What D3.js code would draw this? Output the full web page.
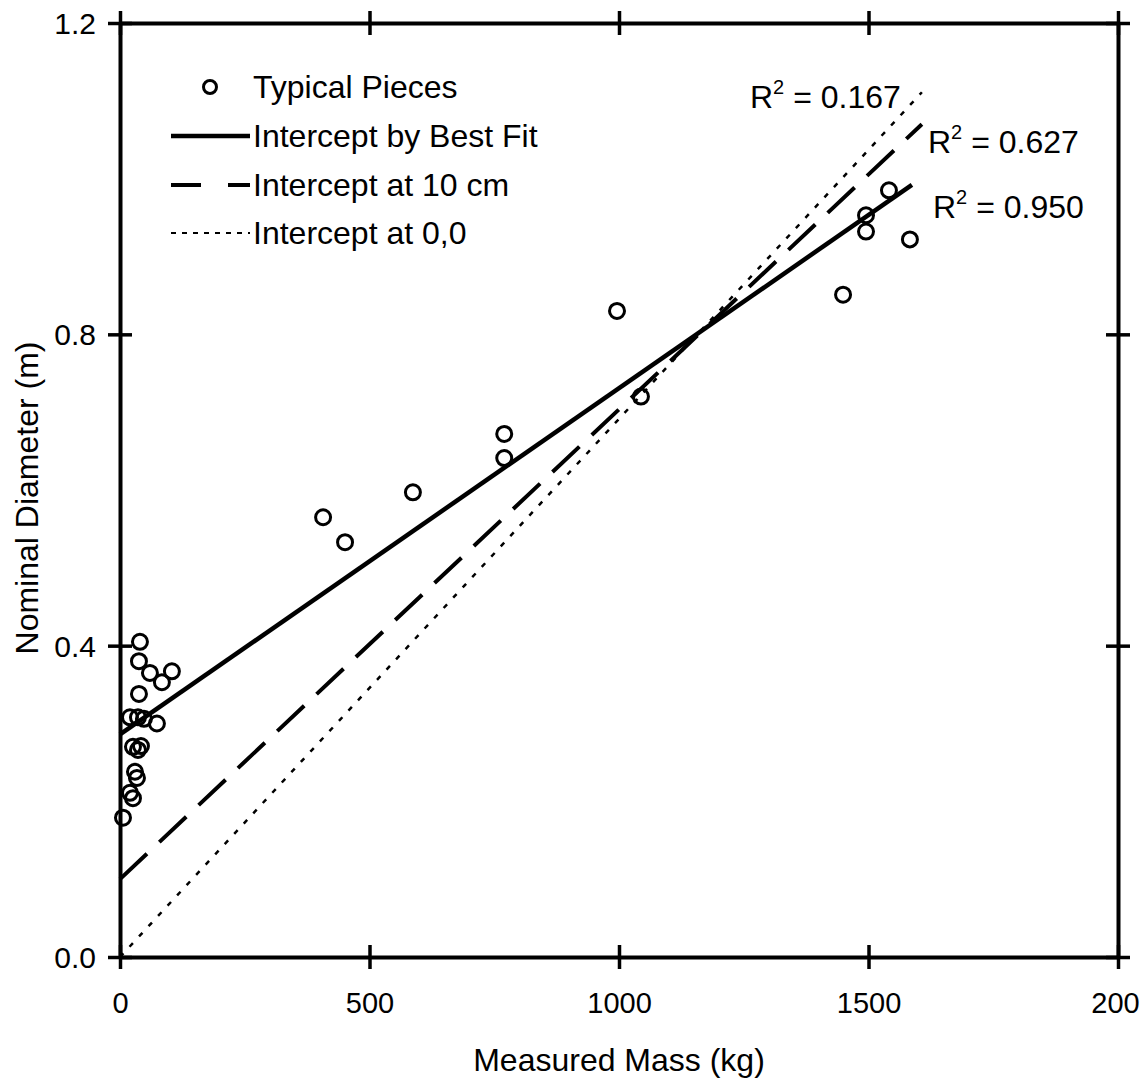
<!DOCTYPE html>
<html>
<head>
<meta charset="utf-8">
<script src="https://cdn.jsdelivr.net/npm/d3@7"></script>
<style>
  body { margin: 0; background: #fff; }
  svg text { font-family: "Liberation Sans", Arial, Helvetica, sans-serif; fill: #000; }
</style>
</head>
<body>
<svg id="chart"></svg>
<script>
// Measured pieces
const massKg = [1541, 1495, 1495, 1583, 1449, 996, 1044, 770, 770, 587, 407, 451,
                40, 38, 60, 104, 84, 38, 20, 36, 48, 74, 26, 36, 42, 30, 34, 20, 26, 6];
const diameterM = [0.985, 0.953, 0.932, 0.922, 0.851, 0.830, 0.720, 0.672, 0.641, 0.597, 0.565, 0.533,
                   0.405, 0.380, 0.365, 0.367, 0.353, 0.338, 0.308, 0.308, 0.306, 0.300, 0.270, 0.266, 0.271, 0.238, 0.230, 0.211, 0.204, 0.179];

// Fitted lines (end points)
const bestFitMass = [0, 1587], bestFitDiam = [0.286, 0.992];
const int10Mass = [0, 1607], int10Diam = [0.10, 1.070];
const int00Mass = [0, 1607], int00Diam = [0.0, 1.111];

const xTicks = [0, 500, 1000, 1500, 2000];
const xTickLabels = ["0", "500", "1000", "1500", "200"];
const yTicks = [0, 0.4, 0.8, 1.2];
const yTickLabels = ["0.0", "0.4", "0.8", "1.2"];

const legendLabels = ["Typical Pieces", "Intercept by Best Fit", "Intercept at 10 cm", "Intercept at 0,0"];
const rSquared = ["0.167", "0.627", "0.950"];

const width = 1142, height = 1078;
const margin = {top: 23, right: 24, bottom: 121, left: 120};

const svg = d3.select("#chart")
    .attr("width", width)
    .attr("height", height);

const x = d3.scaleLinear().domain([0, 2000]).range([margin.left, width - margin.right]);
const y = d3.scaleLinear().domain([0, 1.2]).range([height - margin.bottom, margin.top]);

// Axes: ticks cross the frame on all four sides
function styleAxis(g, vertical) {
    g.select(".domain").attr("stroke", "#000").attr("stroke-width", 4);
    g.selectAll(".tick line").attr("stroke", "#000").attr("stroke-width", 3.5);
    if (vertical) g.selectAll(".tick line").attr("x1", -12).attr("x2", 12);
    else g.selectAll(".tick line").attr("y1", -12).attr("y2", 12);
}

const xAxisBottom = svg.append("g")
    .attr("transform", `translate(0,${y(0)})`)
    .call(d3.axisBottom(x).tickValues(xTicks).tickSize(12).tickSizeOuter(0).tickPadding(23)
        .tickFormat((d, i) => xTickLabels[i]));
styleAxis(xAxisBottom, false);
xAxisBottom.selectAll("text").attr("font-size", 29);
// last label sits at the page edge, keep it inside
xAxisBottom.selectAll(".tick:last-of-type text").attr("dx", -3);

const xAxisTop = svg.append("g")
    .attr("transform", `translate(0,${y(1.2)})`)
    .call(d3.axisTop(x).tickValues(xTicks).tickSize(12).tickSizeOuter(0).tickFormat(""));
styleAxis(xAxisTop, false);

const yAxisLeft = svg.append("g")
    .attr("transform", `translate(${x(0)},0)`)
    .call(d3.axisLeft(y).tickValues(yTicks).tickSize(12).tickSizeOuter(0).tickPadding(12)
        .tickFormat((d, i) => yTickLabels[i]));
styleAxis(yAxisLeft, true);
yAxisLeft.selectAll("text").attr("font-size", 30).attr("dy", "0.35em");

const yAxisRight = svg.append("g")
    .attr("transform", `translate(${x(2000)},0)`)
    .call(d3.axisRight(y).tickValues(yTicks).tickSize(12).tickSizeOuter(0).tickFormat(""));
styleAxis(yAxisRight, true);

// Axis titles
svg.append("text")
    .attr("x", x(1000)).attr("y", 1071)
    .attr("text-anchor", "middle").attr("font-size", 32)
    .text("Measured Mass (kg)");

svg.append("text")
    .attr("transform", `translate(38,${(y(0) + y(1.2)) / 2 + 8}) rotate(-90)`)
    .attr("text-anchor", "middle").attr("font-size", 32)
    .text("Nominal Diameter (m)");

// Fit lines
const lineStyles = [
    {mass: int00Mass, diam: int00Diam, width: 2.5, dash: "5,9"},
    {mass: int10Mass, diam: int10Diam, width: 4, dash: "37,17"},
    {mass: bestFitMass, diam: bestFitDiam, width: 4.5, dash: null}
];
const line = d3.line().x(d => x(d[0])).y(d => y(d[1]));
lineStyles.forEach(s => {
    svg.append("path")
        .datum(d3.zip(s.mass, s.diam))
        .attr("d", line)
        .attr("fill", "none")
        .attr("stroke", "#000")
        .attr("stroke-width", s.width)
        .attr("stroke-dasharray", s.dash);
});

// Data points
svg.selectAll("circle.pt")
    .data(d3.zip(massKg, diameterM))
    .enter().append("circle")
    .attr("class", "pt")
    .attr("cx", d => x(d[0]))
    .attr("cy", d => y(d[1]))
    .attr("r", 7.5)
    .attr("fill", "none")
    .attr("stroke", "#000")
    .attr("stroke-width", 3);

// R-squared labels
const rPos = [[750, 108], [928, 153], [933, 218]];
rSquared.forEach((r, i) => {
    const t = svg.append("text")
        .attr("x", rPos[i][0]).attr("y", rPos[i][1])
        .attr("font-size", 32);
    t.append("tspan").text("R");
    t.append("tspan").attr("font-size", 20).attr("dy", -14).text("2");
    t.append("tspan").attr("dy", 14).text(" = " + r);
});

// Legend
const legend = svg.append("g");
const legRows = [87, 136, 185, 233];
legRows.forEach((ly, i) => {
    legend.append("text")
        .attr("x", 253).attr("y", ly + 11)
        .attr("font-size", 32)
        .text(legendLabels[i]);
});
legend.append("circle")
    .attr("cx", 210).attr("cy", legRows[0]).attr("r", 6.5)
    .attr("fill", "none").attr("stroke", "#000").attr("stroke-width", 3);
legend.append("line")
    .attr("x1", 171).attr("x2", 250).attr("y1", legRows[1]).attr("y2", legRows[1])
    .attr("stroke", "#000").attr("stroke-width", 4.5);
legend.append("line")
    .attr("x1", 171).attr("x2", 250).attr("y1", legRows[2]).attr("y2", legRows[2])
    .attr("stroke", "#000").attr("stroke-width", 4).attr("stroke-dasharray", "30,27,23");
legend.append("line")
    .attr("x1", 171).attr("x2", 250).attr("y1", legRows[3]).attr("y2", legRows[3])
    .attr("stroke", "#000").attr("stroke-width", 2).attr("stroke-dasharray", "5,6");
</script>
</body>
</html>
